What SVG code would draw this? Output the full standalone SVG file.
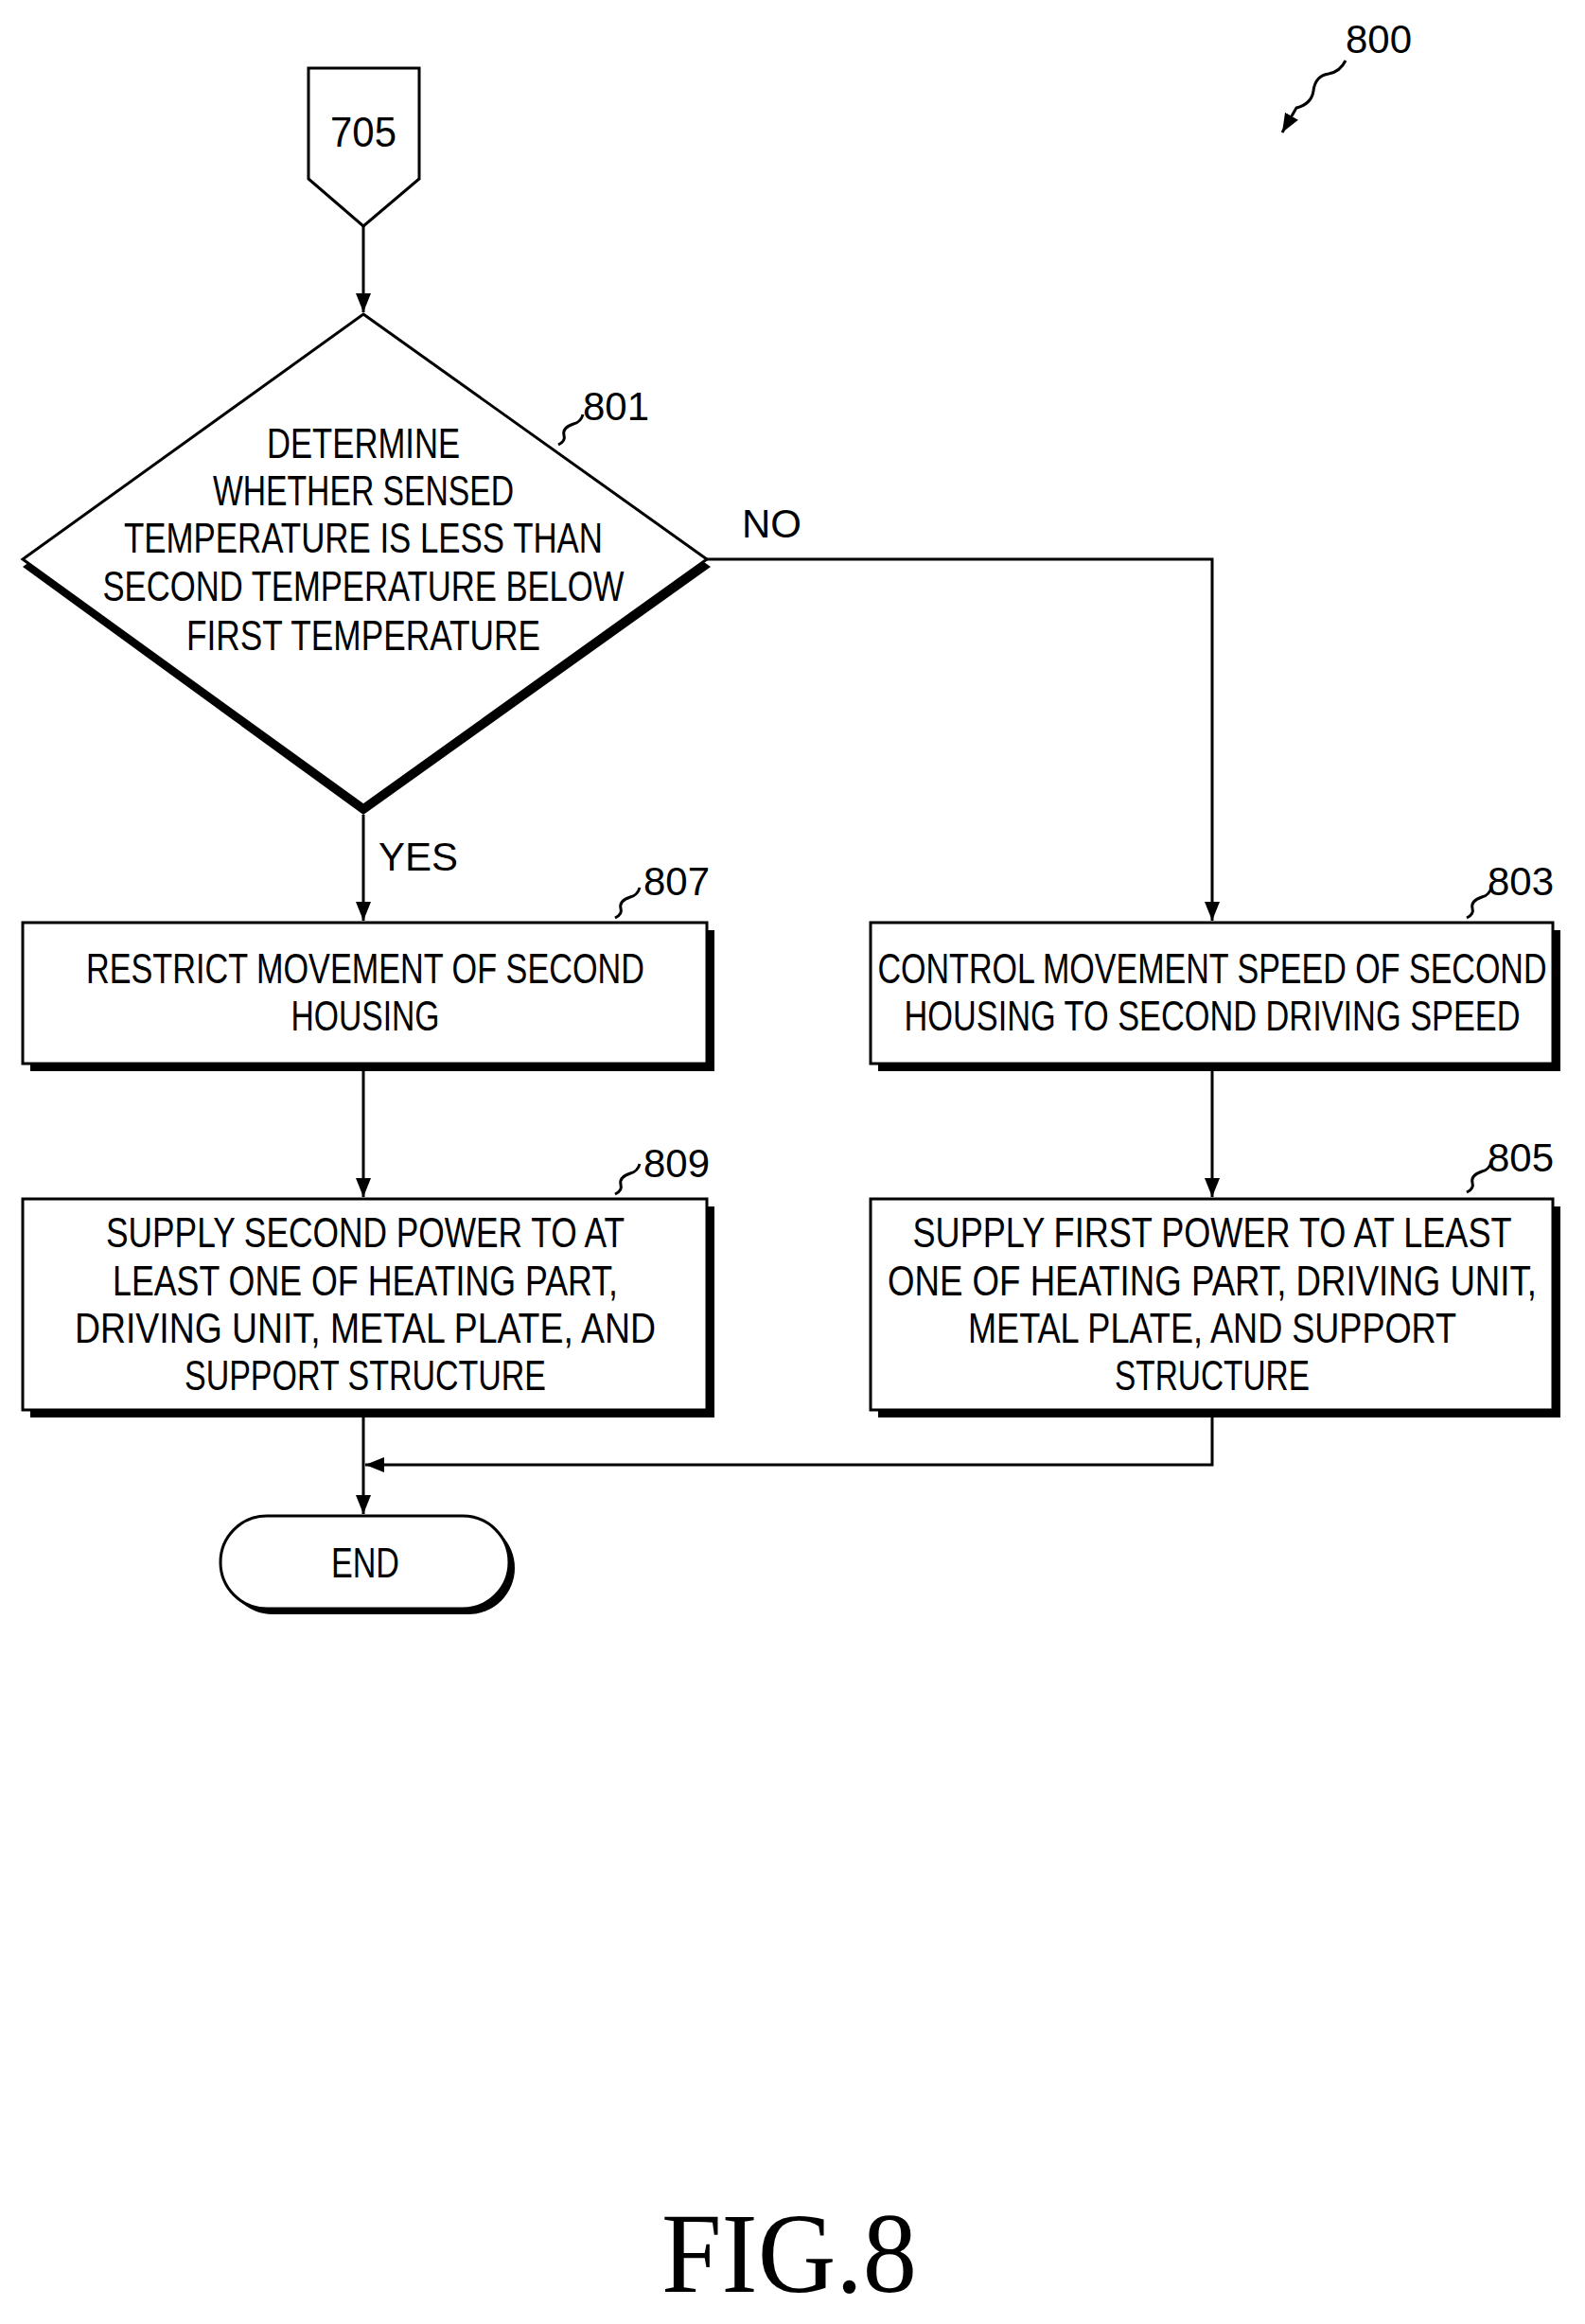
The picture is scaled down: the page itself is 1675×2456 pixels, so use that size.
<svg xmlns="http://www.w3.org/2000/svg" width="1675" height="2456" viewBox="0 0 1675 2456">
<defs>
<marker id="ah" viewBox="0 0 10 10" refX="10" refY="5" markerWidth="20" markerHeight="20" markerUnits="userSpaceOnUse" orient="auto"><path d="M0,1 L10,5 L0,9 z" fill="#000"/></marker>
<style>
.b{fill:#fff;stroke:#000;stroke-width:3}
.s{fill:#000}
.t{font-family:"Liberation Sans",Arial,sans-serif;font-size:44px;text-anchor:middle;fill:#000}
.l{font-family:"Liberation Sans",Arial,sans-serif;font-size:42px;fill:#000}
.c{fill:none;stroke:#000;stroke-width:3}
</style>
</defs>
<rect width="1675" height="2456" fill="#fff"/>
<g id="n705"><path class="b" d="M326,72 H443 V189 L384,239 L326,189 Z"/><text class="t" x="384" y="155" textLength="70" lengthAdjust="spacingAndGlyphs">705</text></g>
<g id="n801">
<polygon class="s" points="384,340 751,599 384,861 24,599"/>
<polygon class="b" points="384,332 747,591 384,851 24,591"/>
<text class="t" x="384" y="484" textLength="204" lengthAdjust="spacingAndGlyphs">DETERMINE</text>
<text class="t" x="384" y="534" textLength="318" lengthAdjust="spacingAndGlyphs">WHETHER SENSED</text>
<text class="t" x="384" y="584" textLength="506" lengthAdjust="spacingAndGlyphs">TEMPERATURE IS LESS THAN</text>
<text class="t" x="384" y="635" textLength="551" lengthAdjust="spacingAndGlyphs">SECOND TEMPERATURE BELOW</text>
<text class="t" x="384" y="687" textLength="374" lengthAdjust="spacingAndGlyphs">FIRST TEMPERATURE</text>
<path class="c" d="M590,470 q8,-4 6,-10 q-2,-8 10,-12 q8,-2 10,-10"/>
<text class="l" x="616" y="444">801</text>
</g>
<g id="n807">
<rect class="s" x="32" y="983" width="723" height="149"/>
<rect class="b" x="24" y="975" width="723" height="149"/>
<text class="t" x="386" y="1039" textLength="590" lengthAdjust="spacingAndGlyphs">RESTRICT MOVEMENT OF SECOND</text>
<text class="t" x="386" y="1089" textLength="157" lengthAdjust="spacingAndGlyphs">HOUSING</text>
<path class="c" d="M650,970 q8,-4 6,-10 q-2,-8 10,-12 q8,-2 10,-10"/>
<text class="l" x="680" y="946">807</text>
</g>
<g id="n803">
<rect class="s" x="928" y="983" width="721" height="149"/>
<rect class="b" x="920" y="975" width="721" height="149"/>
<text class="t" x="1281" y="1039" textLength="707" lengthAdjust="spacingAndGlyphs">CONTROL MOVEMENT SPEED OF SECOND</text>
<text class="t" x="1281" y="1089" textLength="651" lengthAdjust="spacingAndGlyphs">HOUSING TO SECOND DRIVING SPEED</text>
<path class="c" d="M1550,970 q8,-4 6,-10 q-2,-8 10,-12 q8,-2 10,-10"/>
<text class="l" x="1572" y="946">803</text>
</g>
<g id="n809">
<rect class="s" x="32" y="1275" width="723" height="223"/>
<rect class="b" x="24" y="1267" width="723" height="223"/>
<text class="t" x="386" y="1318" textLength="548" lengthAdjust="spacingAndGlyphs">SUPPLY SECOND POWER TO AT</text>
<text class="t" x="386" y="1369" textLength="534" lengthAdjust="spacingAndGlyphs">LEAST ONE OF HEATING PART,</text>
<text class="t" x="386" y="1419" textLength="614" lengthAdjust="spacingAndGlyphs">DRIVING UNIT, METAL PLATE, AND</text>
<text class="t" x="386" y="1469" textLength="382" lengthAdjust="spacingAndGlyphs">SUPPORT STRUCTURE</text>
<path class="c" d="M650,1262 q8,-4 6,-10 q-2,-8 10,-12 q8,-2 10,-10"/>
<text class="l" x="680" y="1244">809</text>
</g>
<g id="n805">
<rect class="s" x="928" y="1275" width="721" height="223"/>
<rect class="b" x="920" y="1267" width="721" height="223"/>
<text class="t" x="1281" y="1318" textLength="633" lengthAdjust="spacingAndGlyphs">SUPPLY FIRST POWER TO AT LEAST</text>
<text class="t" x="1281" y="1369" textLength="686" lengthAdjust="spacingAndGlyphs">ONE OF HEATING PART, DRIVING UNIT,</text>
<text class="t" x="1281" y="1419" textLength="516" lengthAdjust="spacingAndGlyphs">METAL PLATE, AND SUPPORT</text>
<text class="t" x="1281" y="1469" textLength="206" lengthAdjust="spacingAndGlyphs">STRUCTURE</text>
<path class="c" d="M1550,1260 q8,-4 6,-10 q-2,-8 10,-12 q8,-2 10,-10"/>
<text class="l" x="1572" y="1238">805</text>
</g>
<g id="nEnd">
<rect class="s" x="239" y="1608" width="305" height="98" rx="49"/>
<rect class="b" x="233" y="1602" width="305" height="98" rx="49"/>
<text class="t" x="386" y="1667" textLength="72" lengthAdjust="spacingAndGlyphs">END</text>
</g>
<g id="connectors">
<line class="c" x1="384" y1="239" x2="384" y2="330" marker-end="url(#ah)"/>
<path class="c" d="M747,591 H1281 V973" marker-end="url(#ah)"/>
<line class="c" x1="384" y1="861" x2="384" y2="973" marker-end="url(#ah)"/>
<line class="c" x1="384" y1="1132" x2="384" y2="1265" marker-end="url(#ah)"/>
<line class="c" x1="1281" y1="1132" x2="1281" y2="1265" marker-end="url(#ah)"/>
<path class="c" d="M1281,1498 V1548 H386" marker-end="url(#ah)"/>
<line class="c" x1="384" y1="1498" x2="384" y2="1600" marker-end="url(#ah)"/>
<path class="c" d="M1422,64 q-6,12 -18,14 q-14,2 -16,18 q-2,14 -18,18 L1355,140" marker-end="url(#ah)"/>
</g>
<text class="l" x="784" y="568">NO</text>
<text class="l" x="400" y="920">YES</text>
<text class="l" x="1422" y="56">800</text>
<text x="834" y="2422" font-family="'Liberation Serif',serif" font-size="120" text-anchor="middle" textLength="270" lengthAdjust="spacingAndGlyphs">FIG.8</text>
</svg>
